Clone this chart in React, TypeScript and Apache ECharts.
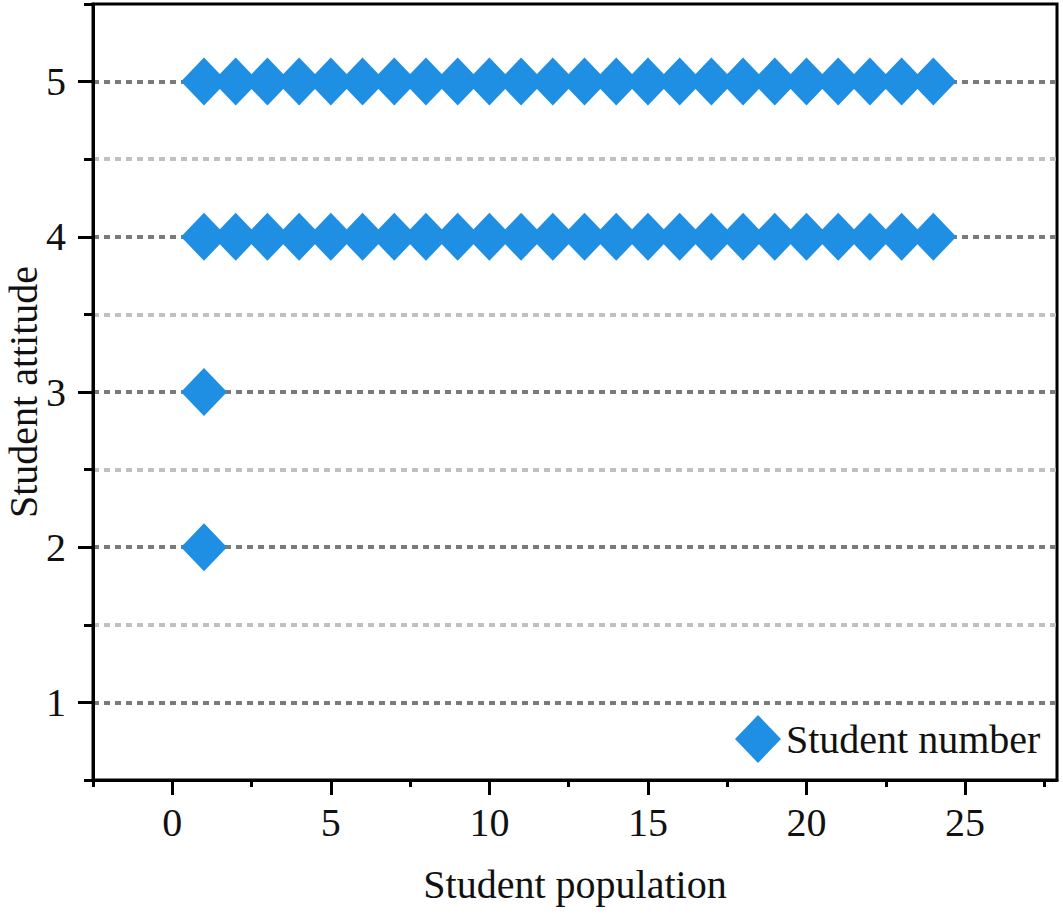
import React, { useEffect, useRef } from "react";
import * as echarts from "echarts";

const seriesName = "Student number";
const xAxisName = "Student population";
const yAxisName = "Student attitude";

const xMajorTicks = [0, 5, 10, 15, 20, 25];
const xMinorTicks = [-2.5, 2.5, 7.5, 12.5, 17.5, 22.5, 27.5];
const yMajorTicks = [1, 2, 3, 4, 5];

// student indices observed at each attitude level
const studentsAtAttitude5 = [1, 2, 3, 4, 5, 6, 7, 8, 9, 10, 11, 12, 13, 14, 15, 16, 17, 18, 19, 20, 21, 22, 23, 24];
const studentsAtAttitude4 = [1, 2, 3, 4, 5, 6, 7, 8, 9, 10, 11, 12, 13, 14, 15, 16, 17, 18, 19, 20, 21, 22, 23, 24];
const studentsAtAttitude3 = [1];
const studentsAtAttitude2 = [1];

const FONT = "'Liberation Serif', 'Times New Roman', serif";
const FS = 40;

export default function App() {
  const ref = useRef<HTMLDivElement>(null);
  useEffect(() => {
    document.body.style.margin = "0";
    if (!ref.current) return;
    const chart = echarts.init(ref.current, undefined, { renderer: "svg" });
    const points: number[][] = [];
    const groups: [number, number[]][] = [
      [5, studentsAtAttitude5],
      [4, studentsAtAttitude4],
      [3, studentsAtAttitude3],
      [2, studentsAtAttitude2],
    ];
    groups.forEach(([level, xs]) => xs.forEach((x) => points.push([x, level])));

    const axisLine = { show: true, onZero: false, lineStyle: { color: "#000", width: 3 } };
    chart.setOption({
      animation: false,
      backgroundColor: "#fff",
      textStyle: { fontFamily: FONT },
      grid: {
        left: 93,
        right: 6,
        top: 4,
        bottom: 137,
        containLabel: false,
        outerBoundsMode: "none",
        show: true,
        borderColor: "#000",
        borderWidth: 3,
        backgroundColor: "transparent",
      },
      legend: {
        show: true,
        left: 730,
        top: 710,
        itemWidth: 46,
        itemHeight: 48,
        itemGap: 10,
        textStyle: { fontFamily: FONT, fontSize: FS, color: "#111" },
        data: [{ name: seriesName, icon: "diamond" }],
      },
      xAxis: [
        {
          type: "value",
          min: -2.5,
          max: 27.9,
          name: xAxisName,
          nameLocation: "middle",
          nameGap: 84,
          nameMoveOverlap: false,
          nameTextStyle: { fontFamily: FONT, fontSize: FS, color: "#111" },
          axisLine,
          axisTick: { show: true, customValues: xMajorTicks, length: 15, lineStyle: { color: "#000", width: 3 } },
          axisLabel: { customValues: xMajorTicks, fontFamily: FONT, fontSize: FS, color: "#111", margin: 22 },
          splitLine: { show: false },
        },
        {
          type: "value",
          min: -2.5,
          max: 27.9,
          position: "bottom",
          axisLine: { show: false, onZero: false },
          axisTick: { show: true, customValues: xMinorTicks, length: 7, lineStyle: { color: "#000", width: 3 } },
          axisLabel: { show: false },
          splitLine: { show: false },
        },
      ],
      yAxis: [
        {
          type: "value",
          min: 0.5,
          max: 5.5,
          interval: 1,
          position: "left",
          axisLine,
          axisTick: { show: true, length: 9, lineStyle: { color: "#000", width: 3 } },
          axisLabel: { show: false },
          splitLine: {
            show: true,
            showMinLine: false,
            showMaxLine: false,
            lineStyle: { color: "#c0c0c0", width: 4, type: [6, 5] },
          },
        },
        {
          type: "value",
          min: 0.5,
          max: 5.5,
          position: "left",
          offset: 0,
          name: yAxisName,
          nameLocation: "middle",
          nameGap: 50,
          nameMoveOverlap: false,
          nameTextStyle: { fontFamily: FONT, fontSize: FS, color: "#111" },
          axisLine: { show: false, onZero: false },
          axisTick: { show: true, customValues: yMajorTicks, length: 15, lineStyle: { color: "#000", width: 3 } },
          axisLabel: { customValues: yMajorTicks, fontFamily: FONT, fontSize: FS, color: "#111", margin: 27 },
          splitLine: {
            show: true,
            lineStyle: { color: "#7a7a7a", width: 4, type: [6, 5] },
          },
        },
      ],
      series: [
        {
          name: seriesName,
          type: "scatter",
          xAxisIndex: 0,
          yAxisIndex: 1,
          symbol: "diamond",
          symbolSize: [46, 48],
          itemStyle: { color: "#1e8fe3", opacity: 1 },
          data: points,
          z: 5,
        },
      ],
    });
    return () => chart.dispose();
  }, []);
  return <div ref={ref} style={{ width: 1063, height: 917 }} />;
}
